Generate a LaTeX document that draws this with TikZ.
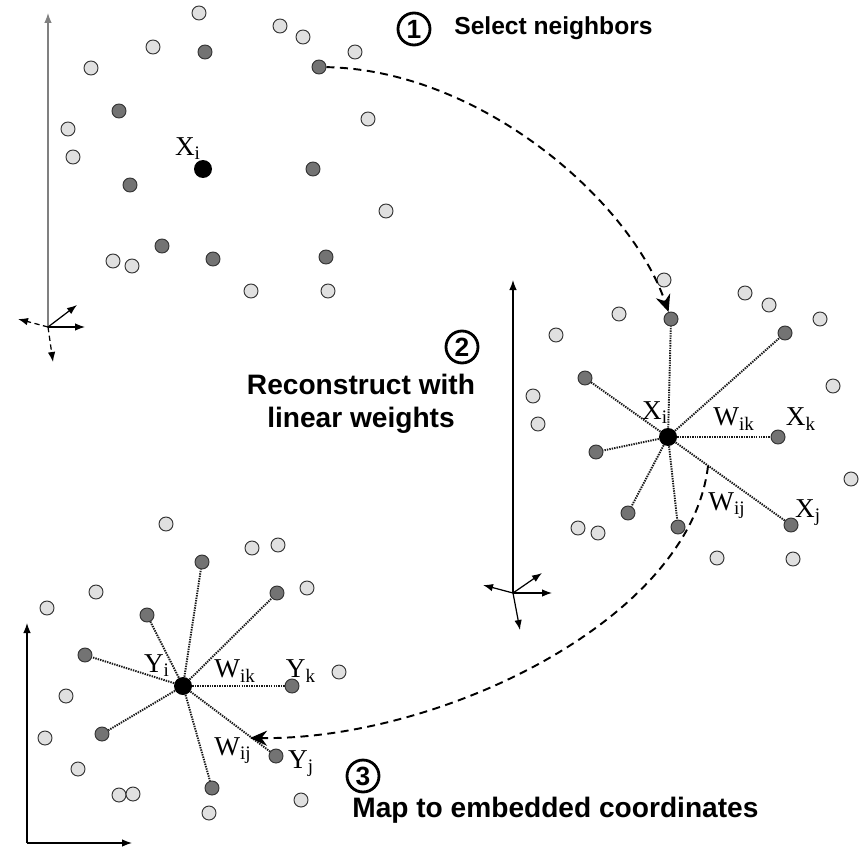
\documentclass[tikz,border=0pt]{standalone}
\usepackage{fontspec}
\setmainfont{Liberation Sans}
\newfontfamily\serifl{Liberation Serif}
\usetikzlibrary{arrows.meta}

\begin{document}
\begin{tikzpicture}[x=0.02cm, y=-0.02cm,
  far/.style={circle, draw=black!80, fill=black!12, line width=0.55pt, inner sep=0pt, minimum size=0.28cm},
  near/.style={far, fill=black!55},
  pivot/.style={circle, fill=black, inner sep=0pt, minimum size=0.36cm},
  tie/.style={line width=1.1pt, black!90, dash pattern=on 0.8pt off 0.6pt},
  flow/.style={line width=1.1pt, dash pattern=on 1.6mm off 1.1mm, -{Stealth[length=3.4mm, width=3mm]}},
  ax/.style={line width=0.7pt, -{Latex[length=2mm, width=1.5mm]}},
  lbl/.style={font=\serifl\fontsize{15.5}{15.5}\selectfont, inner sep=0pt},
  stepno/.style={circle, draw, line width=1.6pt, inner sep=0pt, minimum size=0.64cm, font=\bfseries\fontsize{15}{15}\selectfont},
  caption/.style={font=\bfseries\fontsize{16}{19}\selectfont, inner sep=0pt}]
\useasboundingbox (0,0) rectangle (865,848);

% panel 1: input space
\coordinate (o1) at (48,327);
\coordinate (o1up) at (48,13);
\coordinate (o1r) at (85,327);
\coordinate (o1ur) at (77,305);
\coordinate (o1l) at (18,319);
\coordinate (o1d) at (53,362);
\draw[ax, gray] (o1) -- (o1up);
\draw[ax] (o1) -- (o1r);
\draw[ax] (o1) -- (o1ur);
\draw[ax, densely dashed] (o1) -- (o1l);
\draw[ax, densely dashed] (o1) -- (o1d);
\foreach \x/\y [count=\n] in {199/13, 280/26, 303/37, 153/47, 355/52, 91/68, 368/119, 68/129,
    73/157, 386/211, 113/261, 132/266, 251/291, 328/291}
  \node[far] (p\n) at (\x,\y) {};
\node[near] (pick) at (319,67) {};
\foreach \x/\y [count=\n] in {205/52, 119/111, 130/185, 313/169, 162/246, 213/259, 326/257}
  \node[near] (q\n) at (\x,\y) {};
\node[pivot] (xi1) at (203,169) {};
\node[lbl] (xi1l) at (188,149) {X\textsubscript{i}};

% panel 2: local reconstruction
\coordinate (o2) at (513,593);
\coordinate (o2up) at (513,280);
\coordinate (o2r) at (552,593);
\coordinate (o2ur) at (542,573);
\coordinate (o2l) at (483,585);
\coordinate (o2d) at (520,630);
\foreach \t in {o2up, o2r, o2ur, o2l, o2d}
  \draw[ax] (o2) -- (\t);
\foreach \x/\y [count=\n] in {664/280, 745/293, 769/305, 619/314, 820/319, 556/335, 833/386, 533/396,
    538/424, 851/479, 578/528, 598/533, 717/558, 793/559}
  \node[far] (r\n) at (\x,\y) {};
\foreach \x/\y [count=\n] in {671/319, 785/333, 585/378, 778/437, 596/452, 628/513, 678/527, 791/525}
  \node[near] (s\n) at (\x,\y) {};
\node[pivot] (xi2) at (668,437) {};
\foreach \n in {1,...,8}
  \draw[tie] (xi2) -- (s\n);
\node[lbl] (xi2l) at (655,413) {X\textsubscript{i}};
\node[lbl] (wik2) at (734,419) {W\textsubscript{ik}};
\node[lbl] (xk2) at (801,419) {X\textsubscript{k}};
\node[lbl] (wij2) at (727,506) {W\textsubscript{ij}};
\node[lbl] (xj2) at (808,513) {X\textsubscript{j}};

% panel 3: embedding
\coordinate (o3) at (27,843);
\coordinate (o3up) at (27,623);
\coordinate (o3r) at (132,843);
\draw[ax] (o3) -- (o3up);
\draw[ax] (o3) -- (o3r);
\foreach \x/\y [count=\n] in {166/524, 252/548, 278/545, 307/588, 96/592, 47/608, 339/672, 66/696,
    45/738, 78/769, 119/795, 133/794, 301/800, 209/813}
  \node[far] (t\n) at (\x,\y) {};
\foreach \x/\y [count=\n] in {202/562, 277/593, 147/615, 85/655, 292/686, 102/734, 276/756, 212/788}
  \node[near] (u\n) at (\x,\y) {};
\node[pivot] (yi) at (183,686) {};
\foreach \n in {1,...,8}
  \draw[tie] (yi) -- (u\n);
\node[lbl] (yil) at (157,666) {Y\textsubscript{i}};
\node[lbl] (wik3) at (235,671) {W\textsubscript{ik}};
\node[lbl] (ykl) at (301,671) {Y\textsubscript{k}};
\node[lbl] (wij3) at (233,751) {W\textsubscript{ij}};
\node[lbl] (yjl) at (301,764) {Y\textsubscript{j}};

% steps
\draw[flow] (pick) .. controls (480,70) and (630,200) .. (s1);
\coordinate (f2a) at (708,466);
\coordinate (f2b) at (250,738);
\draw[flow] (f2a) .. controls (690,620) and (440,740) .. (f2b);

\node[stepno] (one) at (414,29) {1};
\node[caption, font=\bfseries\fontsize{14}{17}\selectfont, anchor=west] (sel) at (454,28) {Select neighbors};
\node[stepno] (two) at (462,347) {2};
\node[caption, align=center] (rec) at (361,404) {Reconstruct with\\linear weights};
\node[stepno] (three) at (363,776) {3};
\node[caption, anchor=west] (map) at (352,810) {Map to embedded coordinates};
\end{tikzpicture}
\end{document}
